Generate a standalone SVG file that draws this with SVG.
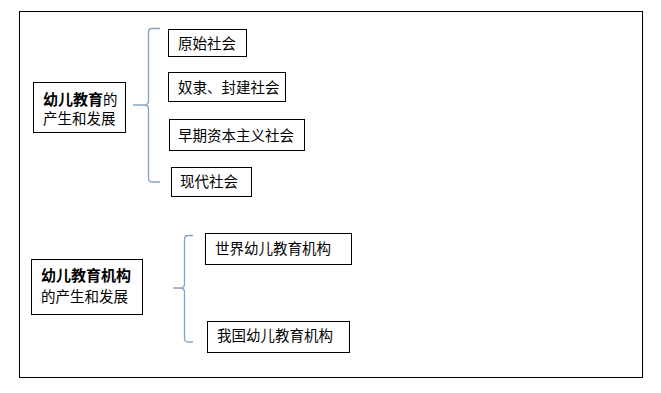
<svg xmlns="http://www.w3.org/2000/svg" width="661" height="393" viewBox="0 0 661 393">
<style>
.box{fill:#fff;stroke:#000;stroke-width:1}
.t{font-family:"Noto Sans CJK SC","Noto Sans",sans-serif;font-size:14.5px;fill:#000}
.b{font-weight:bold;font-size:15px}
.br{fill:none;stroke:#86A2C4;stroke-width:1.3}
</style>
<rect x="0" y="0" width="661" height="393" fill="#fff"/>
<rect x="19.5" y="11.5" width="623" height="366" fill="none" stroke="#000" stroke-width="1"/>
<g id="connectors">
<path class="br" d="M160,28.5 H152 Q148.5,28.5 148.5,32 V101 Q148.5,105 144,105 H133 M144,105 Q148.5,105 148.5,109 V178 Q148.5,182 152,182 H160"/>
<path class="br" d="M193,235.5 H188 Q184.5,235.5 184.5,239 V284 Q184.5,288 180,288 H173 M180,288 Q184.5,288 184.5,292 V338 Q184.5,342 188,342 H193"/>
</g>
<g id="n1"><rect class="box" x="33.5" y="82.5" width="92" height="50"/>
<text class="t" x="43" y="105"><tspan class="b">幼儿教育</tspan>的</text>
<text class="t" x="43" y="124">产生和发展</text></g>
<g id="n2"><rect class="box" x="168.5" y="29.5" width="78" height="27"/><text class="t" x="178" y="49">原始社会</text></g>
<g id="n3"><rect class="box" x="168.5" y="72.5" width="117" height="29"/><text class="t" x="178" y="93">奴隶、封建社会</text></g>
<g id="n4"><rect class="box" x="169.5" y="119.5" width="135" height="31"/><text class="t" x="178" y="141">早期资本主义社会</text></g>
<g id="n5"><rect class="box" x="171.5" y="167.5" width="80" height="29"/><text class="t" x="180" y="187">现代社会</text></g>
<g id="n6"><rect class="box" x="31.5" y="259.5" width="111" height="55"/>
<text class="t b" x="41" y="281">幼儿教育机构</text>
<text class="t" x="41" y="302">的产生和发展</text></g>
<g id="n7"><rect class="box" x="205.5" y="233.5" width="146" height="31"/><text class="t" x="215" y="254">世界幼儿教育机构</text></g>
<g id="n8"><rect class="box" x="207.5" y="321.5" width="142" height="31"/><text class="t" x="217" y="341">我国幼儿教育机构</text></g>
</svg>
